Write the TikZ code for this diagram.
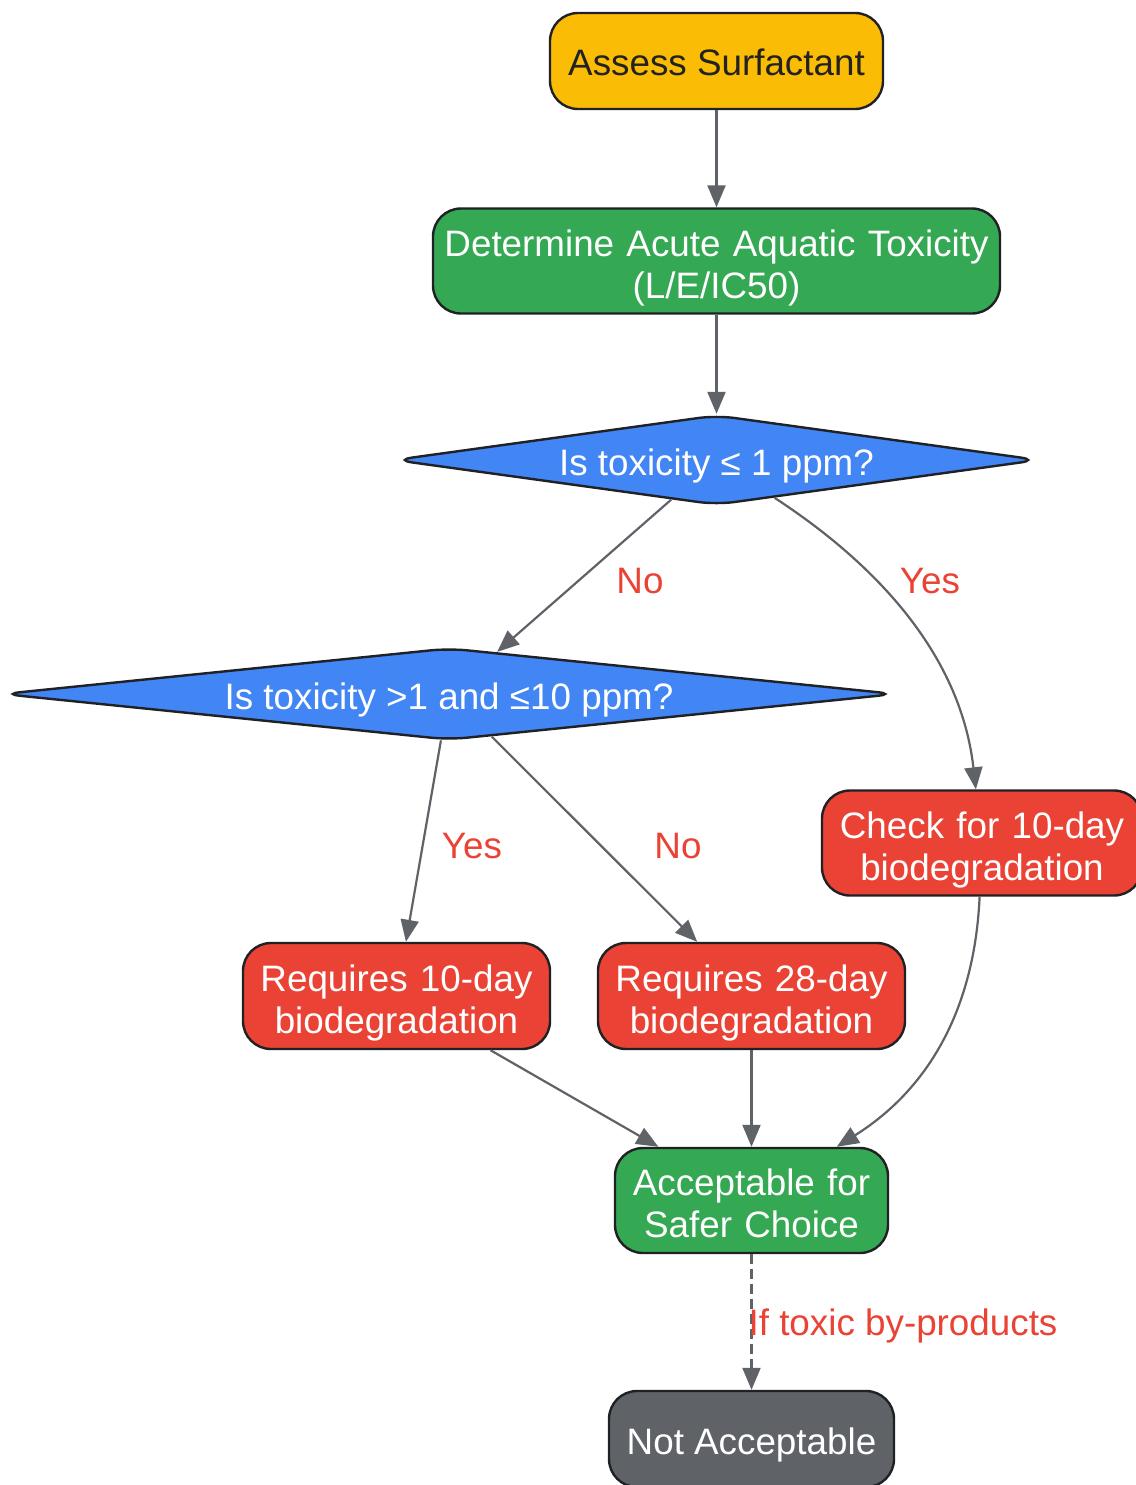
\documentclass[tikz,border=0pt]{standalone}
\usepackage{fontspec}
\setmainfont{Liberation Sans}
\usetikzlibrary{shapes.geometric,arrows.meta}
\definecolor{cyellow}{HTML}{FBBC05}
\definecolor{cgreen}{HTML}{34A853}
\definecolor{cblue}{HTML}{4285F4}
\definecolor{cred}{HTML}{EA4335}
\definecolor{cgray}{HTML}{5F6368}
\definecolor{cborder}{HTML}{202124}
\definecolor{cdark}{HTML}{222222}
\begin{document}
\begin{tikzpicture}[x=1pt,y=-1pt,
  txt/.style={font=\fontsize{36.8}{42}\selectfont},
  box/.style={txt, draw=cborder, line width=2.4pt, rounded corners=28pt, align=center, inner sep=0pt, text=white},
  oneline/.style={text height=32pt, text depth=2pt},
  twoline/.style={text width=#1, text height=20pt, text depth=30pt},
  dec/.style={txt, shape=diamond, draw=cborder, line width=2.4pt, rounded corners=18pt, fill=cblue, text=white, inner sep=0pt, oneline},
  edge/.style={draw=cgray, line width=2.2pt, -{Triangle[length=22pt,width=18pt]}},
  lbl/.style={txt, text=cred, inner sep=0pt}]
\useasboundingbox (0,0) rectangle (1135,1485);
\fill[white] (0,0) rectangle (1135,1485);

\node[box, oneline, fill=cyellow, text=cdark, minimum width=333pt, minimum height=96pt] (start) at (716.5,61) {Assess Surfactant};
\node[box, twoline=560pt, fill=cgreen, minimum width=567pt, minimum height=105pt] (det) at (716.5,261) {Determine Acute Aquatic Toxicity\\(L/E/IC50)};
\node[dec, aspect=7, minimum width=645pt, minimum height=90pt] (d1) at (716.5,460) {Is toxicity ≤ 1 ppm?};
\node[dec, aspect=9.7, minimum width=894pt, minimum height=92pt] (d2) at (449,694) {Is toxicity >1 and ≤10 ppm?};
\node[box, twoline=310pt, fill=cred, minimum width=320pt, minimum height=105pt] (chk) at (982,843) {Check for 10-day\\biodegradation};
\node[box, twoline=300pt, fill=cred, minimum width=307pt, minimum height=106pt] (r10) at (396.5,996) {Requires 10-day\\biodegradation};
\node[box, twoline=300pt, fill=cred, minimum width=307pt, minimum height=106pt] (r28) at (751.5,996) {Requires 28-day\\biodegradation};
\node[box, twoline=266pt, fill=cgreen, minimum width=273pt, minimum height=105pt] (acc) at (751.5,1200.5) {Acceptable for\\Safer Choice};
\node[box, oneline, fill=cgray, minimum width=285pt, minimum height=96pt] (na) at (751.5,1439) {Not Acceptable};

\draw[edge] (start) -- (det);
\draw[edge] (det) -- (d1);
\draw[edge] (d1) -- (d2);
\draw[edge] (d1) .. controls (870,560) and (960,650) .. (chk);
\draw[edge] (d2) -- (r10);
\draw[edge] (d2) -- (r28);
\draw[edge] (r10) -- (acc);
\draw[edge] (r28) -- (acc);
\draw[edge] (chk) .. controls (975,1000) and (935,1085) .. (acc);
\draw[edge, dash pattern=on 10pt off 5pt] (acc) -- (na);

\node[lbl] (lno1) at (640,581) {No};
\node[lbl] (lyes1) at (930,581) {Yes};
\node[lbl] (lyes2) at (472,846) {Yes};
\node[lbl] (lno2) at (678,846) {No};
\node[lbl] (lif) at (903,1326) {If toxic by-products};
\end{tikzpicture}
\end{document}
